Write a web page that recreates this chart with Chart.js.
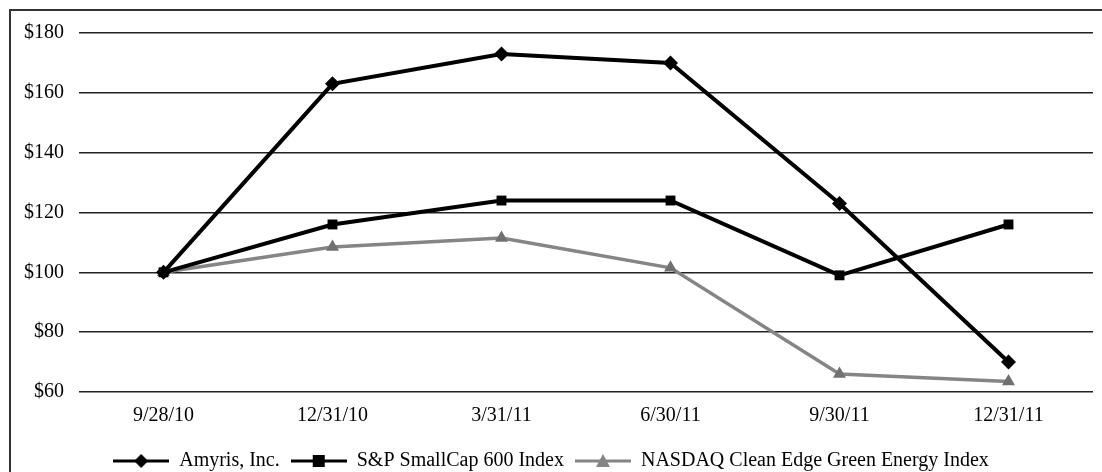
<!DOCTYPE html>
<html>
<head>
<meta charset="utf-8">
<script src="https://cdn.jsdelivr.net/npm/chart.js@4/dist/chart.umd.min.js"></script>
<style>
  html, body { margin: 0; padding: 0; background: #fff; }
  #wrap { position: relative; width: 1102px; height: 472px; }
  #frame {
    position: absolute; left: 9px; top: 9px; right: 0; bottom: 0;
    border-left: 2px solid #333; border-top: 2px solid #333;
    pointer-events: none;
  }
</style>
</head>
<body>
<div id="wrap">
  <canvas id="chart" width="1102" height="472"></canvas>
  <div id="frame"></div>
</div>
<script>
const dates = ["9/28/10", "12/31/10", "3/31/11", "6/30/11", "9/30/11", "12/31/11"];
const seriesNames = ["Amyris, Inc.", "S&P SmallCap 600 Index", "NASDAQ Clean Edge Green Energy Index"];
const amyris = [100, 163, 173, 170, 123, 70];
const smallCap = [100, 116, 124, 124, 99, 116];
const cleanEdge = [100, 108.5, 111.5, 101.5, 66, 63.5];
const yTicks = [60, 80, 100, 120, 140, 160, 180];

const FONT = { family: "'Liberation Serif', 'Times New Roman', serif", size: 20 };
const GRAY = "#858585";

// legend symbol: short line with the marker in the middle
function legendIcon(style, color) {
  const c = document.createElement("canvas");
  c.width = 56;
  c.height = 16;
  const ctx = c.getContext("2d");
  ctx.strokeStyle = color;
  ctx.fillStyle = color;
  ctx.lineWidth = 3;
  ctx.beginPath();
  ctx.moveTo(0, 8);
  ctx.lineTo(56, 8);
  ctx.stroke();
  ctx.beginPath();
  if (style === "diamond") {
    ctx.moveTo(28, 1); ctx.lineTo(35, 8); ctx.lineTo(28, 15); ctx.lineTo(21, 8);
  } else if (style === "square") {
    ctx.rect(22, 2, 12, 12);
  } else {
    ctx.moveTo(28, 1); ctx.lineTo(35, 14); ctx.lineTo(21, 14);
  }
  ctx.closePath();
  ctx.fill();
  return c;
}

const icons = [legendIcon("diamond", "#000"), legendIcon("square", "#000"), legendIcon("triangle", GRAY)];

new Chart(document.getElementById("chart").getContext("2d"), {
  type: "line",
  data: {
    labels: dates,
    datasets: [
      {
        label: seriesNames[0],
        data: amyris,
        borderColor: "#000",
        backgroundColor: "#000",
        borderWidth: 4,
        pointStyle: "rectRot",
        pointRadius: 7.5,
        pointBorderWidth: 0,
        tension: 0,
      },
      {
        label: seriesNames[1],
        data: smallCap,
        borderColor: "#000",
        backgroundColor: "#000",
        borderWidth: 4,
        pointStyle: "rect",
        pointRadius: 7,
        pointBorderWidth: 0,
        tension: 0,
      },
      {
        label: seriesNames[2],
        data: cleanEdge,
        borderColor: GRAY,
        backgroundColor: "#707070",
        borderWidth: 3.5,
        pointStyle: "triangle",
        pointRadius: 7.5,
        pointBorderWidth: 0,
        tension: 0,
      },
    ],
  },
  options: {
    responsive: false,
    animation: false,
    layout: { padding: { left: 9, right: 9, top: 33, bottom: -9 } },
    plugins: {
      tooltip: { enabled: false },
      legend: {
        position: "bottom",
        labels: {
          font: FONT,
          color: "#000",
          usePointStyle: true,
          pointStyleWidth: 56,
          padding: 11,
          generateLabels: (chart) =>
            chart.data.datasets.map((ds, i) => ({
              text: ds.label,
              pointStyle: icons[i],
              fillStyle: ds.backgroundColor,
              strokeStyle: ds.borderColor,
              lineWidth: 0,
              fontColor: "#000",
              hidden: false,
              datasetIndex: i,
            })),
        },
      },
    },
    scales: {
      x: {
        offset: true,
        grid: { display: false, drawTicks: false },
        border: { display: false },
        ticks: { font: FONT, color: "#000", padding: 12 },
      },
      y: {
        min: yTicks[0],
        max: yTicks[yTicks.length - 1],
        afterBuildTicks: (axis) => { axis.ticks = yTicks.map((v) => ({ value: v })); },
        grid: { color: "#222", lineWidth: 1.5, drawTicks: false },
        border: { display: false },
        ticks: { font: FONT, color: "#000", padding: 15, callback: (v) => "$" + v },
      },
    },
  },
});
</script>
</body>
</html>
